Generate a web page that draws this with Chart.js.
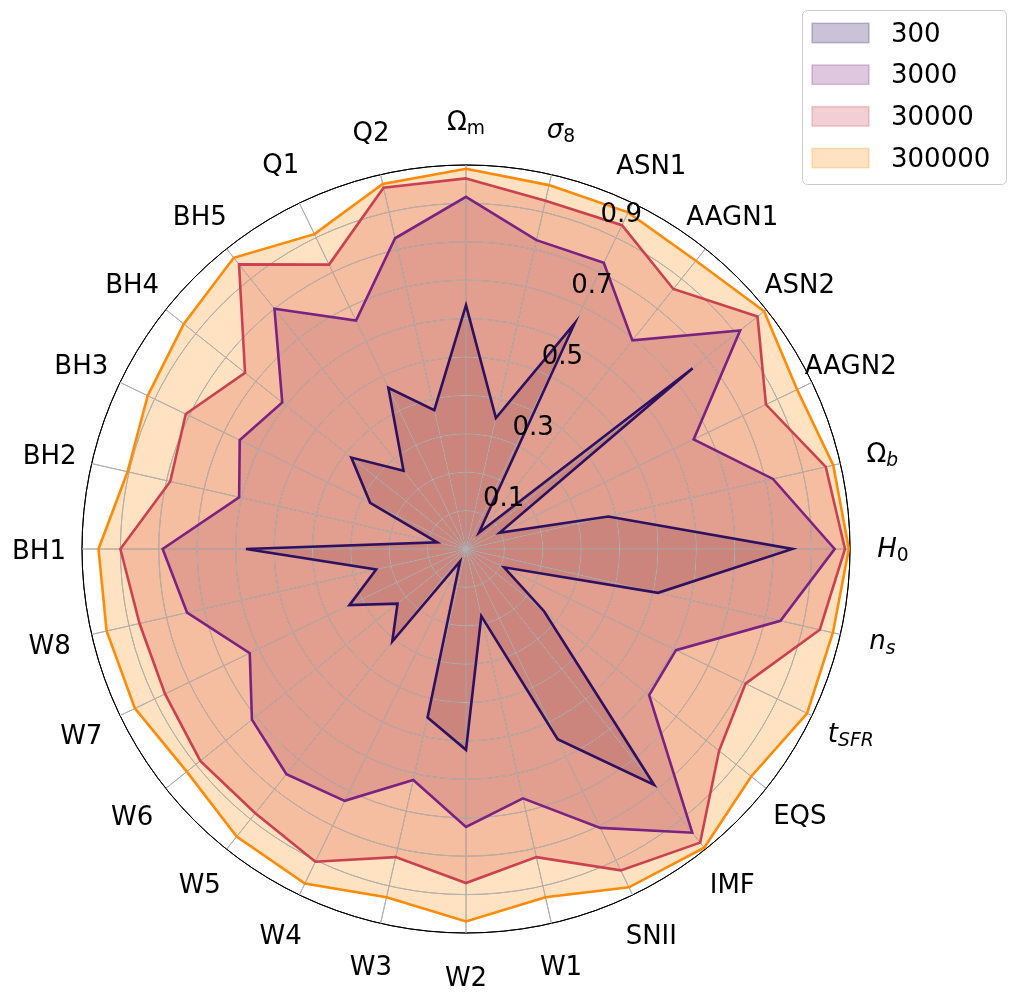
<!DOCTYPE html>
<html>
<head>
<meta charset="utf-8">
<script src="https://cdn.jsdelivr.net/npm/chart.js@4"></script>
<style>
html,body{margin:0;padding:0;background:#fff;}
#wrap{width:1016px;height:1001px;}
</style>
</head>
<body>
<div id="wrap"><canvas id="c" width="1016" height="1001"></canvas></div>
<script>
// ---- data ----
const categories = ['Ωm','σ8','ASN1','AAGN1','ASN2','AAGN2','Ωb','H0','ns','tSFR','EQS','IMF','SNII',
  'W1','W2','W3','W4','W5','W6','W7','W8','BH1','BH2','BH3','BH4','BH5','Q1','Q2'];
const seriesNames = ['300','3000','30000','300000'];
const s300    = [0.635,0.35,0.652,0.054,0.755,0.097,0.38,0.85,0.513,0.11,0.26,0.786,0.55,0.179,0.523,0.45,0.036,0.308,0.228,0.337,0.24,0.573,0.077,0.277,0.382,0.261,0.466,0.371];
const s3000   = [0.917,0.825,0.827,0.695,0.913,0.658,0.82,0.96,0.84,0.607,0.61,0.945,0.806,0.666,0.724,0.617,0.728,0.75,0.713,0.625,0.745,0.79,0.606,0.654,0.612,0.80,0.66,0.83];
const s30000  = [0.965,0.93,0.936,0.866,0.971,0.867,0.961,0.987,0.945,0.808,0.843,0.978,0.929,0.823,0.87,0.823,0.904,0.88,0.885,0.87,0.872,0.90,0.79,0.81,0.736,0.948,0.822,0.965];
const s300000 = [0.99,0.972,0.973,0.96,0.993,0.957,0.981,0.997,0.98,0.986,0.95,0.995,0.978,0.93,0.97,0.93,0.967,0.958,0.93,0.957,0.96,0.957,0.904,0.92,0.94,0.97,0.91,0.975];
const radialTicks = [0.1,0.3,0.5,0.7,0.9];
const lineColors = ['#2d1160','#7a2282','#cc4150','#ff8a08'];

// label formatting: [text, style] ; style: 'n' normal, 'i' italic, 'sn' sub normal, 'si' sub italic
const labelParts = {
  'Ωm': [['Ω','n'],['m','sn']],
  'σ8': [['σ','i'],['8','sn']],
  'Ωb': [['Ω','n'],['b','si']],
  'H0': [['H','i'],['0','sn']],
  'ns': [['n','i'],['s','si']],
  'tSFR': [['t','i'],['SFR','si']]
};

const FONT = '"DejaVu Sans", sans-serif';
const FS = 26;

function hexA(hex, a){
  const r=parseInt(hex.slice(1,3),16),g=parseInt(hex.slice(3,5),16),b=parseInt(hex.slice(5,7),16);
  return `rgba(${r},${g},${b},${a})`;
}

const allSeries = [s300,s3000,s30000,s300000];
const datasets = allSeries.map((d,i)=>({
  label: seriesNames[i],
  data: d,
  borderColor: lineColors[i],
  backgroundColor: hexA(lineColors[i],0.25),
  borderWidth: 2.6,
  fill: 'origin',
  pointRadius: 0,
  order: 3-i
}));

const labelPlugin = {
  id:'customLabels',
  beforeDatasetsDraw(chart){
    // redraw grid on top of the fills (fills are drawn first by the filler plugin)
    const sc = chart.scales.r;
    chart.ctx.save();
    sc.drawGrid();
    chart.ctx.restore();
  },
  afterDatasetsDraw(chart){
    const ctx = chart.ctx;
    const sc = chart.scales.r;
    ctx.save();
    // radial tick labels at 22.5deg
    ctx.fillStyle = '#000';
    ctx.font = `${FS}px ${FONT}`;
    ctx.textAlign = 'center';
    ctx.textBaseline = 'middle';
    const ang = (22.5-90)*Math.PI/180;
    radialTicks.forEach(v=>{
      const d = sc.getDistanceFromCenterForValue(v);
      const x = sc.xCenter + d*Math.cos(ang) + 23;
      const y = sc.yCenter + d*Math.sin(ang) - 14;
      ctx.fillText(v.toFixed(1), x, y);
    });
    // point labels
    ctx.textAlign = 'left';
    ctx.textBaseline = 'alphabetic';
    const dist = sc.drawingArea*1.112;
    categories.forEach((lab,i)=>{
      const p = sc.getPointPosition(i, dist);
      const parts = labelParts[lab] || [[lab,'n']];
      let w=0, top=0, bot=0;
      const meas = parts.map(([t,s])=>{
        const sub = s[0]==='s';
        const it = s.endsWith('i');
        const size = sub? FS*0.72 : FS;
        const f = `${it?'italic ':''}${size}px ${FONT}`;
        ctx.font = f;
        const m = ctx.measureText(t);
        const shift = sub? FS*0.16 : 0;
        top = Math.max(top, m.actualBoundingBoxAscent - shift);
        bot = Math.max(bot, m.actualBoundingBoxDescent + shift);
        const r = {t,f,w:m.width,shift};
        w += m.width;
        return r;
      });
      let x = p.x - w/2;
      const base = p.y + (top - bot)/2;
      meas.forEach(m=>{
        ctx.font = m.f;
        ctx.fillText(m.t, x, base + m.shift);
        x += m.w;
      });
    });
    ctx.restore();
  },
  afterDraw(chart){
    const ctx = chart.ctx;
    ctx.save();
    // legend box
    const bx=802.5, by=10.5, bw=204, bh=174, rr=5;
    ctx.beginPath();
    ctx.moveTo(bx+rr,by);
    ctx.arcTo(bx+bw,by,bx+bw,by+bh,rr);
    ctx.arcTo(bx+bw,by+bh,bx,by+bh,rr);
    ctx.arcTo(bx,by+bh,bx,by,rr);
    ctx.arcTo(bx,by,bx+bw,by,rr);
    ctx.closePath();
    ctx.fillStyle='rgba(255,255,255,0.8)';
    ctx.fill();
    ctx.strokeStyle='#cccccc';
    ctx.lineWidth=1;
    ctx.stroke();
    ctx.font = `${FS}px ${FONT}`;
    ctx.textBaseline='middle';
    ctx.textAlign='left';
    seriesNames.forEach((n,i)=>{
      const cy = 33 + i*41.7;
      ctx.fillStyle = hexA(lineColors[i],0.25);
      ctx.fillRect(812, cy-9.7, 57, 19.4);
      ctx.strokeStyle = hexA(lineColors[i],0.25);
      ctx.lineWidth=1.5;
      ctx.strokeRect(812, cy-9.7, 57, 19.4);
      ctx.fillStyle='#000';
      ctx.fillText(n, 891, cy+2);
    });
    ctx.restore();
  }
};

new Chart(document.getElementById('c'), {
  type:'radar',
  data:{labels:categories, datasets},
  options:{
    responsive:false,
    animation:false,
    devicePixelRatio:1,
    layout:{padding:{left:82,right:166,top:165,bottom:68}},
    plugins:{
      legend:{display:false},
      tooltip:{enabled:false},
      filler:{drawTime:'beforeDatasetsDraw'}
    },
    elements:{line:{tension:0}},
    scales:{
      r:{
        min:0, max:1,
        startAngle:0,
        ticks:{stepSize:0.1, display:false},
        grid:{
          circular:true,
          color:(c)=> (c.tick && c.tick.value>=0.999) ? '#000000' : '#b0b0b0',
          lineWidth:1
        },
        angleLines:{color:'#b0b0b0', lineWidth:1},
        pointLabels:{display:false}
      }
    }
  },
  plugins:[labelPlugin]
});
</script>
</body>
</html>
